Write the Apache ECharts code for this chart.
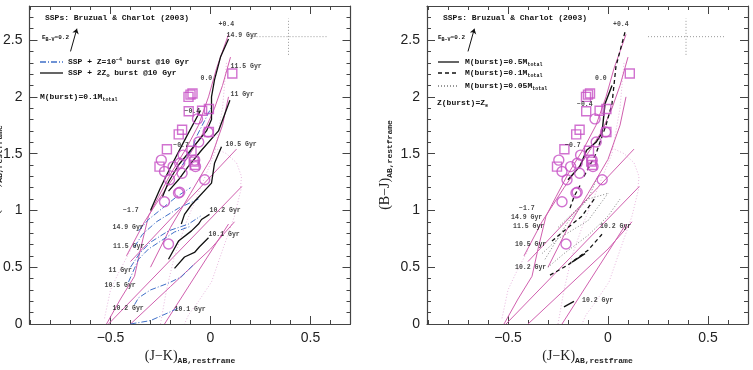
<!DOCTYPE html>
<html>
<head>
<meta charset="utf-8">
<script src="https://cdn.jsdelivr.net/npm/echarts@6/dist/echarts.min.js"></script>
<style>
html, body { margin: 0; padding: 0; background: #fff; }
#main { width: 753px; height: 370px; }
</style>
</head>
<body>
<div id="main"></div>
<script>
// observed galaxies, (J-K) vs (B-J), same in both panels
const squares = [[0.109,2.206],[-0.10,2.02],[-0.09,2.03],[-0.11,2.00],[-0.109,1.873],[-0.042,1.878],[-0.008,1.893],
  [-0.142,1.71],[-0.159,1.67],[-0.218,1.539],[-0.095,1.525],[-0.255,1.386],[-0.084,1.43],[-0.079,1.40],[-0.008,1.69]];
const circles = [[-0.065,1.806],[-0.012,1.69],[-0.059,1.603],[-0.137,1.487],[-0.246,1.443],[-0.23,1.343],[-0.187,1.386],
  [-0.154,1.415],[-0.142,1.328],[-0.205,1.27],[-0.079,1.443],[-0.075,1.386],[-0.029,1.27],[-0.154,1.16],
  [-0.23,1.076],[-0.16,1.154],[-0.21,0.704]];

// SSP grid (magenta), same in both panels
const sspSolid = [
  [[-0.51,0.00],[0.156,1.21]],
  [[-0.23,0.00],[0.09,0.88]],
  [[-0.40,0.00],[-0.20,0.33],[0.00,0.66],[0.12,0.90]],
  [[-0.40,0.55],[0.13,1.54]],
  [[-0.52,0.00],[-0.45,0.22],[-0.38,0.42],[-0.35,0.66],[-0.31,0.95],[-0.26,1.12],[-0.20,1.32],[-0.12,1.55],[-0.06,1.75],[-0.01,2.0],[0.03,2.25],[0.09,2.55]],
  [[-0.42,0.60],[-0.33,0.90],[-0.22,1.20],[-0.12,1.45],[-0.03,1.70],[0.02,1.90],[0.06,2.10],[0.10,2.35]],
  [[-0.30,0.50],[-0.20,0.85],[-0.10,1.15],[0.00,1.45],[0.06,1.75],[0.09,2.00]]
];
const sspDotted = [
  [[0.156,1.21],[0.12,0.95],[0.06,0.65],[0.005,0.37],[-0.06,0.20],[-0.11,0.08],[-0.13,0.00]],
  [[0.02,1.55],[0.08,1.50],[0.13,1.42],[0.155,1.30],[0.15,1.20]],
  [[-0.53,0.05],[-0.50,0.30],[-0.46,0.45],[-0.40,0.65]],
  [[-0.25,0.00],[-0.22,0.30],[-0.18,0.60],[-0.12,0.90],[-0.05,1.20],[0.02,1.50],[0.06,1.90],[0.08,2.30]]
];

// left panel bursts
const blackLeft = [
  [[-0.24,1.12],[-0.21,1.25],[-0.16,1.40],[-0.09,1.55],[-0.02,1.70],[0.005,1.80],[0.005,2.0],[0.02,2.15],[0.05,2.35],[0.09,2.51]],
  [[-0.30,1.00],[-0.25,1.20],[-0.20,1.38],[-0.12,1.65],[-0.05,1.88]],
  [[-0.21,1.17],[-0.16,1.27],[-0.11,1.39],[-0.045,1.53],[0.04,1.70],[0.097,1.97]],
  [[-0.146,0.88],[-0.13,0.965],[-0.095,1.05],[0.005,1.24],[0.02,1.415],[0.055,1.56]],
  [[-0.21,0.57],[-0.16,0.73],[-0.095,0.82],[-0.06,0.88],[-0.045,0.92],[-0.005,0.965]],
  [[-0.18,0.49],[-0.13,0.59],[-0.08,0.63],[-0.055,0.68],[-0.01,0.76]]
];
const blueLeft = [
  [[-0.40,0.00],[-0.30,0.03],[-0.21,0.10],[-0.15,0.15]],
  [[-0.38,0.17],[-0.36,0.23],[-0.30,0.30],[-0.21,0.36],[-0.146,0.415],[-0.08,0.53]],
  [[-0.41,0.37],[-0.38,0.49],[-0.36,0.57],[-0.31,0.66],[-0.18,0.81],[-0.10,0.86]],
  [[-0.40,0.50],[-0.355,0.62],[-0.30,0.72],[-0.21,0.82],[-0.11,0.88],[-0.05,0.95]],
  [[-0.38,0.68],[-0.34,0.79],[-0.27,0.90],[-0.16,1.02],[-0.06,1.10]],
  [[-0.36,0.82],[-0.31,0.92],[-0.24,1.02],[-0.17,1.12],[-0.10,1.20]],
  [[-0.14,1.40],[-0.09,1.55],[-0.07,1.65],[0.005,1.91]]
];

// right panel bursts
const solidRight = [
  [[-0.20,1.27],[-0.14,1.39],[-0.107,1.53],[-0.06,1.60],[-0.03,1.68],[-0.015,1.94],[0.02,2.10]],
  [[-0.18,0.545],[-0.115,0.62]],
  [[-0.22,0.15],[-0.17,0.20]]
];
const dashedRight = [
  [[-0.29,0.43],[-0.20,0.52],[-0.10,0.65],[-0.03,0.79]],
  [[-0.28,0.73],[-0.20,0.85],[-0.13,0.95],[-0.065,1.11]],
  [[-0.19,1.02],[-0.17,1.12],[-0.14,1.22]],
  [[-0.12,1.30],[-0.06,1.50],[-0.01,1.75],[0.02,1.94],[0.04,2.27],[0.085,2.57]]
];
const dottedRight = [
  [[-0.33,0.62],[-0.25,0.75],[-0.10,0.91],[0.00,1.15]],
  [[-0.315,0.57],[-0.20,0.90],[-0.10,1.10],[0.00,1.15]],
  [[-0.25,0.85],[-0.18,0.97],[-0.10,1.10],[-0.05,1.30]],
  [[-0.30,0.50],[-0.22,0.62],[-0.10,0.78],[0.00,0.95],[0.06,1.10]]
];

// error bar and reddening vector
const errX = [[0.20,2.53],[0.58,2.53]];
const errY = [[0.39,2.37],[0.39,2.69]];
const redVec = [[-0.70,2.40],[-0.668,2.60]];

const labelsLeft = [
  [0.04,2.64,'+0.4'],[0.08,2.54,'14.9 Gyr'],[0.10,2.27,'11.5 Gyr'],[-0.05,2.16,'0.0'],[0.10,2.02,'11 Gyr'],
  [-0.13,1.87,'−0.4'],[-0.186,1.57,'−0.7'],[0.075,1.58,'10.5 Gyr'],[-0.005,1.0,'10.2 Gyr'],[-0.01,0.79,'10.1 Gyr'],
  [-0.437,1.0,'−1.7'],[-0.49,0.85,'14.9 Gyr'],[-0.487,0.68,'11.5 Gyr'],[-0.51,0.475,'11 Gyr'],
  [-0.53,0.34,'10.5 Gyr'],[-0.49,0.14,'10.2 Gyr'],[-0.18,0.13,'10.1 Gyr']
];
const labelsRight = [
  [0.025,2.64,'+0.4'],[-0.065,2.16,'0.0'],[-0.155,1.93,'−0.4'],[-0.215,1.57,'−0.7'],[-0.445,1.02,'−1.7'],
  [-0.485,0.94,'14.9 Gyr'],[-0.475,0.86,'11.5 Gyr'],[-0.465,0.70,'10.5 Gyr'],[-0.465,0.50,'10.2 Gyr'],
  [-0.04,0.86,'10.2 Gyr'],[-0.13,0.21,'10.2 Gyr']
];

const xMajor = [-0.5, 0, 0.5];
const yMajor = [0, 0.5, 1, 1.5, 2, 2.5];

const MAG = '#c54fc4';
const MAGLINE = '#d05fae';
const MONO = '"Liberation Mono", "DejaVu Sans Mono", monospace';

const xMinor = [], yMinor = [];
for (let i = -9; i <= 7; i++) xMinor.push(+(i / 10).toFixed(1));
for (let i = 0; i <= 27; i++) yMinor.push(+(i / 10).toFixed(1));

const chart = echarts.init(document.getElementById('main'));

function minus(v) { return String(v).replace('-', '−'); }

let xAxes = [], yAxes = [];
function addAxes(g) {
  const base = { type: 'value', gridIndex: g, splitLine: { show: false } };
  const frame = { show: true, onZero: false, lineStyle: { color: '#444', width: 1.2 } };
  const none = { show: false, onZero: false };
  const major = (vals) => ({ show: true, inside: true, length: 8, customValues: vals, lineStyle: { color: '#444' } });
  const minor = (vals) => ({ show: true, inside: true, length: 4, customValues: vals, lineStyle: { color: '#444' } });
  const xr = { min: -0.905, max: 0.7 }, yr = { min: 0, max: 2.8 };
  const sub = {
    a: { fontSize: 14, fontFamily: 'Liberation Serif', color: '#222' },
    b: { fontSize: 8, fontFamily: MONO, fontWeight: 'bold', color: '#222', padding: [9, 0, 0, 0] }
  };
  xAxes.push(Object.assign({}, base, xr, {
    position: 'bottom', axisLine: frame, axisTick: major(xMajor),
    axisLabel: { customValues: xMajor, formatter: minus, fontSize: 14, color: '#222', fontFamily: 'Liberation Sans', margin: 7 },
    name: '{a|(J−K)}{b|AB,restframe}', nameLocation: 'middle', nameGap: 24, nameMoveOverlap: false,
    nameTextStyle: { rich: sub }
  }));
  xAxes.push(Object.assign({}, base, xr, { position: 'bottom', axisLine: none, axisTick: minor(xMinor), axisLabel: { show: false } }));
  xAxes.push(Object.assign({}, base, xr, { position: 'top', axisLine: frame, axisTick: major(xMajor), axisLabel: { show: false } }));
  xAxes.push(Object.assign({}, base, xr, { position: 'top', axisLine: none, axisTick: minor(xMinor), axisLabel: { show: false } }));
  yAxes.push(Object.assign({}, base, yr, {
    position: 'left', axisLine: frame, axisTick: major(yMajor),
    axisLabel: { customValues: yMajor, fontSize: 14, color: '#222', fontFamily: 'Liberation Sans', margin: 7 },
    name: g === 1 ? '{a|(B−J)}{b|AB,restframe}' : '', nameLocation: 'middle', nameGap: 33, nameRotate: 90,
    nameMoveOverlap: false, nameTextStyle: { rich: sub }
  }));
  yAxes.push(Object.assign({}, base, yr, { position: 'left', axisLine: none, axisTick: minor(yMinor), axisLabel: { show: false } }));
  yAxes.push(Object.assign({}, base, yr, { position: 'right', axisLine: frame, axisTick: major(yMajor), axisLabel: { show: false } }));
  yAxes.push(Object.assign({}, base, yr, { position: 'right', axisLine: none, axisTick: minor(yMinor), axisLabel: { show: false } }));
}
addAxes(0);
addAxes(1);

const series = [];
function polyline(g, pts, color, width, type, z) {
  series.push({
    type: 'line', xAxisIndex: g * 4, yAxisIndex: g * 4, data: pts, showSymbol: false, symbol: 'none',
    lineStyle: { color: color, width: width, type: type }, z: z || 2, silent: true, animation: false
  });
}
function panel(g, labels) {
  sspDotted.forEach(p => polyline(g, p, '#e2a6d6', 0.8, [1, 2], 1));
  sspSolid.forEach(p => polyline(g, p, MAGLINE, 1, 'solid', 1));
  polyline(g, errX, '#999', 1, [1, 2], 1);
  polyline(g, errY, '#999', 1, [1, 2], 1);
  series.push({
    type: 'lines', coordinateSystem: 'cartesian2d', xAxisIndex: g * 4, yAxisIndex: g * 4,
    data: [{ coords: redVec }], symbol: ['none', 'arrow'], symbolSize: 5,
    lineStyle: { color: '#111', width: 1, opacity: 1 }, silent: true, animation: false
  });
  series.push({
    type: 'scatter', xAxisIndex: g * 4, yAxisIndex: g * 4, data: squares, symbol: 'rect', symbolSize: 9,
    itemStyle: { color: 'rgba(0,0,0,0)', borderColor: MAG, borderWidth: 1.4 }, z: 4, silent: true, animation: false
  });
  series.push({
    type: 'scatter', xAxisIndex: g * 4, yAxisIndex: g * 4, data: circles, symbol: 'circle', symbolSize: 10,
    itemStyle: { color: 'rgba(0,0,0,0)', borderColor: MAG, borderWidth: 1.4 }, z: 4, silent: true, animation: false
  });
  series.push({
    type: 'scatter', xAxisIndex: g * 4, yAxisIndex: g * 4, data: labels, symbolSize: 0, z: 6, silent: true, animation: false,
    label: { show: true, position: 'right', distance: 0, formatter: p => p.value[2],
      fontFamily: MONO, fontWeight: 'bold', fontSize: 6.5, color: '#111' }
  });
}
panel(0, labelsLeft);
panel(1, labelsRight);
blueLeft.forEach(p => polyline(0, p, '#3f6fc8', 1, [6, 2, 1, 2], 3));
blackLeft.forEach(p => polyline(0, p, '#111', 1.3, 'solid', 3));
dottedRight.forEach(p => polyline(1, p, '#777', 0.9, [1, 2], 3));
dashedRight.forEach(p => polyline(1, p, '#111', 1.3, [4, 3], 3));
solidRight.forEach(p => polyline(1, p, '#111', 1.4, 'solid', 3));

// header text and legend keys
function txt(x, y, text, rich, size) {
  return { type: 'text', x: x, y: y, silent: true, z: 10,
    style: { text: text, font: 'bold ' + (size || 8) + 'px ' + MONO, fill: '#111', verticalAlign: 'middle', rich: rich || {} } };
}
const subRich = {
  n: { font: 'bold 8px ' + MONO, fill: '#111' },
  s: { font: 'bold 5px ' + MONO, fill: '#111', padding: [5, 0, 0, 0] },
  p: { font: 'bold 5px ' + MONO, fill: '#111', padding: [0, 0, 5, 0] },
  e: { font: 'bold 6px ' + MONO, fill: '#111' }
};
function key(x1, x2, y, color, dash) {
  return { type: 'line', silent: true, z: 10, shape: { x1: x1, y1: y, x2: x2, y2: y },
    style: { stroke: color, lineWidth: 1.3, lineDash: dash } };
}
const graphics = [
  // left y-axis title sits mostly outside the canvas
  { type: 'text', x: -5, y: 170, rotation: Math.PI / 2, silent: true, z: 10,
    style: { text: '{a|(B−J)}{b|AB,restframe}', align: 'center', verticalAlign: 'middle',
      rich: { a: { font: '14px "Liberation Serif"', fill: '#222' }, b: { font: 'bold 8px ' + MONO, fill: '#222', padding: [9, 0, 0, 0] } } } },
  txt(45, 18, 'SSPs: Bruzual & Charlot (2003)'),
  txt(42, 37, '{e|E}{s|B−V}{e|=0.2}', subRich),
  key(40, 63, 62, '#3f6fc8', [6, 2, 1, 2]),
  txt(68, 62, '{n|SSP + Z=10}{p|−4}{n| burst @10 Gyr}', subRich),
  key(40, 63, 73, '#111', null),
  txt(68, 73, '{n|SSP + 2Z}{s|⊙}{n| burst @10 Gyr}', subRich),
  txt(40, 97, '{n|M(burst)=0.1M}{s|total}', subRich),
  txt(443, 18, 'SSPs: Bruzual & Charlot (2003)'),
  txt(438, 37, '{e|E}{s|B−V}{e|=0.2}', subRich),
  key(438, 459, 62, '#111', null),
  txt(465, 62, '{n|M(burst)=0.5M}{s|total}', subRich),
  key(438, 459, 73, '#111', [4, 3]),
  txt(465, 73, '{n|M(burst)=0.1M}{s|total}', subRich),
  key(438, 459, 86, '#777', [1, 2]),
  txt(465, 86, '{n|M(burst)=0.05M}{s|total}', subRich),
  txt(437, 103, '{n|Z(burst)=Z}{s|⊙}', subRich)
];

chart.setOption({
  animation: false,
  backgroundColor: '#fff',
  grid: [
    { left: 29.5, top: 6, width: 321, height: 322 },
    { left: 427, top: 6, width: 321, height: 322 }
  ],
  xAxis: xAxes,
  yAxis: yAxes,
  series: series,
  graphic: graphics
});
</script>
</body>
</html>
